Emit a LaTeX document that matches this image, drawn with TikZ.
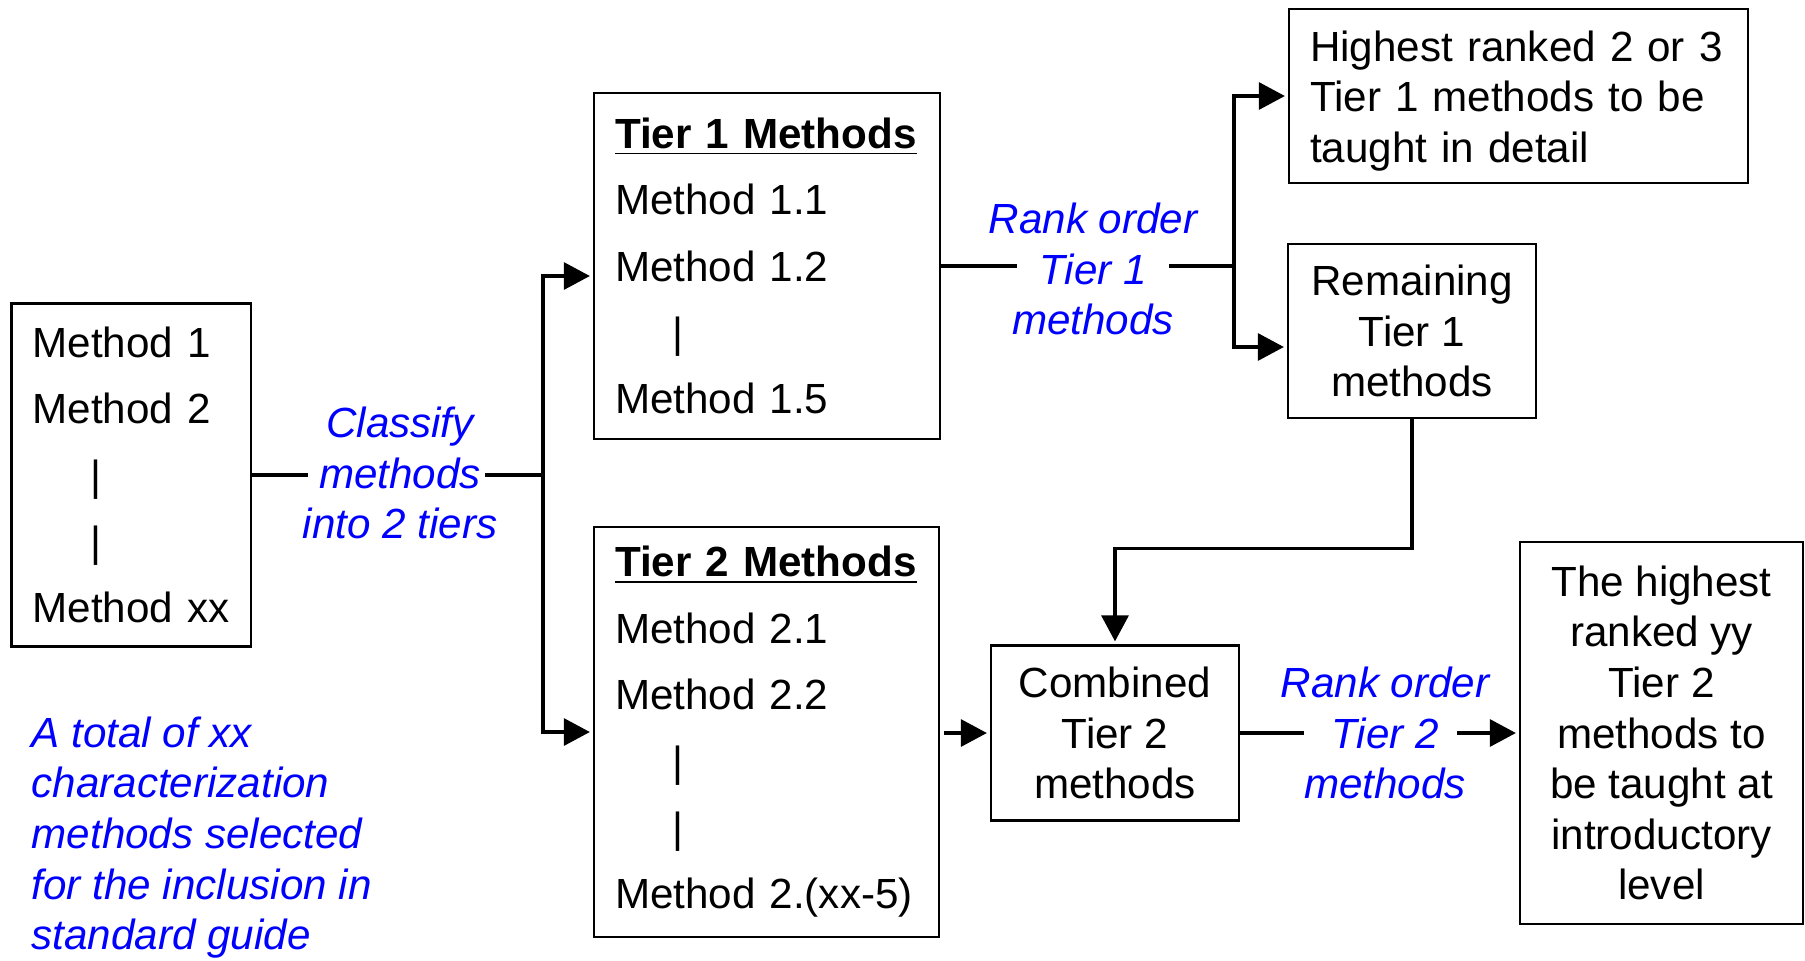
\documentclass[tikz,border=0pt]{standalone}
\usepackage{fontspec}
\setmainfont{Liberation Sans}
\usetikzlibrary{arrows.meta,positioning}
\newcommand{\skipbar}{\hspace*{0.575cm}|}

\begin{document}
\begin{tikzpicture}[
  font=\fontsize{12}{14.4}\selectfont,
  box/.style = {draw,line width=0.65pt,inner sep=0pt},
  listbox/.style = {box,align=left,inner xsep=0.21cm,font=\fontsize{12}{18.9}\selectfont},
  textbox/.style = {box,align=center},
  note/.style = {text=blue,font=\fontsize{12}{14.4}\selectfont\itshape,align=center,inner sep=0pt},
  link/.style = {line width=0.9pt},
  flow/.style = {link,shorten >=0.03cm,-{Triangle[length=0.26cm,width=0.27cm]}}
  ]
  \useasboundingbox (0,0) rectangle (18.05,9.6);
  % boxes
  \node[listbox,text width=1.975cm,minimum height=3.43cm] (methods) at (1.313,4.85)
    {Method 1\\Method 2\\\skipbar\\\skipbar\\Method xx};
  \node[listbox,text width=3.04cm,minimum height=3.46cm] (tier1) at (7.67,6.94)
    {\underline{\textbf{Tier 1 Methods}}\\Method 1.1\\Method 1.2\\\skipbar\\Method 1.5};
  \node[listbox,text width=3.03cm,minimum height=4.10cm] (tier2) at (7.665,2.28)
    {\underline{\textbf{Tier 2 Methods}}\\Method 2.1\\Method 2.2\\\skipbar\\\skipbar\\Method 2.(xx-5)};
  \node[box,align=left,inner xsep=0.21cm,text width=4.17cm,minimum height=1.74cm] (highest) at (15.185,8.64)
    {\rule{0pt}{0.4cm}Highest ranked 2 or 3\\Tier 1 methods to be\\taught in detail};
  \node[textbox,minimum width=2.48cm,minimum height=1.74cm] (remaining) at (14.12,6.29)
    {Remaining\\Tier 1\\methods};
  \node[textbox,minimum width=2.48cm,minimum height=1.75cm] (combined) at (11.15,2.27)
    {Combined\\Tier 2\\methods};
  \node[textbox,minimum width=2.83cm,minimum height=3.82cm] (final) at (16.615,2.27)
    {The highest\\ranked yy\\Tier 2\\methods to\\be taught at\\introductory\\level};
  % labels
  \node[note] (classify) at (4.00,4.87) {Classify\\methods\\into 2 tiers};
  \node[note] (rank1) at (10.93,6.91) {Rank order\\Tier 1\\methods};
  \node[note] (rank2) at (13.85,2.27) {Rank order\\Tier 2\\methods};
  \node[note,align=left,anchor=north west] (total) at (0.31,2.44)
    {A total of xx\\characterization\\methods selected\\for the inclusion in\\standard guide};
  % connectors
  \coordinate (split1) at (5.43,4.85);
  \coordinate (split2) at (12.34,6.94);
  \draw[link] (methods.east) -- ([xshift=-0.92cm]classify.center |- split1);
  \draw[link] ([xshift=0.85cm]classify.center |- split1) -- (split1);
  \draw[flow] (split1) |- ([yshift=-0.1cm]tier1.west);
  \draw[flow] (split1) |- (tier2.west);
  \draw[link] (tier1.east) -- ([xshift=-0.76cm]rank1.center |- split2);
  \draw[link] ([xshift=0.76cm]rank1.center |- split2) -- (split2);
  \draw[flow] (split2) |- (highest.west);
  \draw[flow] (split2) |- ([yshift=-0.16cm]remaining.west);
  \draw[flow] (remaining.south) -- ++(0,-1.29) -| (combined.north);
  \draw[flow,shorten <=0.04cm] (tier2.east |- combined.west) -- (combined.west);
  \draw[link] (combined.east) -- ([xshift=-0.81cm]rank2.center);
  \draw[flow] ([xshift=0.72cm]rank2.center) -- (final.west);
\end{tikzpicture}
\end{document}
